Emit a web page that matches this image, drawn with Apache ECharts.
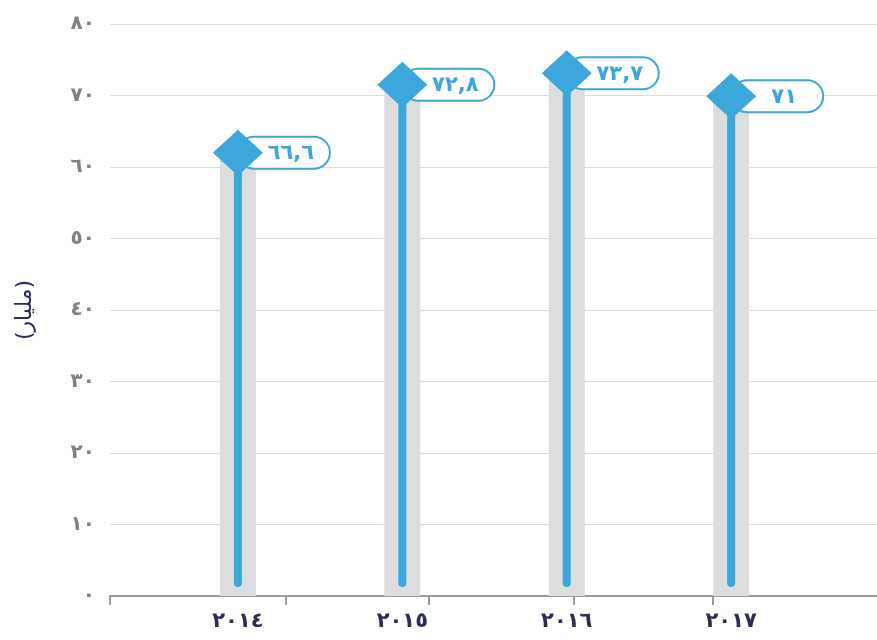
<!DOCTYPE html>
<html>
<head>
<meta charset="utf-8">
<script src="https://cdn.jsdelivr.net/npm/echarts@6/dist/echarts.min.js"></script>
<style>
html,body{margin:0;padding:0;background:#fff;}
#chart{width:877px;height:640px;}
</style>
</head>
<body>
<div id="chart"></div>
<script>
// ---- data ----
const years = [2014, 2015, 2016, 2017];
const yearLabels = ['٢٠١٤', '٢٠١٥', '٢٠١٦', '٢٠١٧'];
const values = [62.0, 71.5, 73.1, 69.9];
const valueLabels = ['٦٦,٦', '٧٢,٨', '٧٣,٧', '٧١'];
const yTickLabels = ['٠', '١٠', '٢٠', '٣٠', '٤٠', '٥٠', '٦٠', '٧٠', '٨٠'];
const xTickMarks = [2013.222, 2014.293, 2015.162, 2016.044, 2016.890];
const yAxisName = '(مليار)';

const BLUE = '#3ba7db';
const FONT = 'DejaVu Sans';
const points = years.map((y, i) => [y, values[i]]);

const chart = echarts.init(document.getElementById('chart'), null, {renderer: 'canvas'});
chart.setOption({
  animation: false,
  backgroundColor: '#fff',
  grid: {left: 110, right: 0, top: 24, bottom: 44},
  xAxis: {
    type: 'value',
    min: 2013.222,
    max: 2017.887,
    splitLine: {show: false},
    axisLine: {show: true, lineStyle: {color: '#9b9b9b', width: 2}},
    axisTick: {show: true, customValues: xTickMarks, length: 9, lineStyle: {color: '#9b9b9b', width: 2}},
    axisLabel: {
      customValues: years,
      margin: 15,
      formatter: v => yearLabels[years.indexOf(Math.round(v))] || '',
      color: '#2b2d52', fontSize: 21, fontWeight: 'bold', fontFamily: FONT
    }
  },
  yAxis: {
    type: 'value',
    min: 0, max: 80, interval: 10,
    name: yAxisName,
    nameLocation: 'middle',
    nameRotate: 90,
    nameGap: 74,
    nameTextStyle: {color: '#2b2d5c', fontSize: 22, fontFamily: FONT},
    axisLine: {show: false},
    axisTick: {show: false},
    splitLine: {lineStyle: {color: '#dcdcdc', width: 1}},
    axisLabel: {
      margin: 15,
      formatter: v => yTickLabels[Math.round(v / 10)],
      color: '#808080', fontSize: 20, fontWeight: 'bold', fontFamily: FONT
    }
  },
  series: [
    {
      type: 'bar',
      data: points,
      barWidth: 36,
      itemStyle: {color: '#dcdddf'},
      z: 1
    },
    {
      type: 'custom',
      data: points,
      z: 2,
      renderItem: (params, api) => {
        const top = api.coord([api.value(0), api.value(1)]);
        const bot = api.coord([api.value(0), 0]);
        return {
          type: 'line',
          shape: {x1: top[0], y1: top[1], x2: top[0], y2: bot[1] - 13},
          style: {stroke: BLUE, lineWidth: 8, lineCap: 'round'}
        };
      }
    },
    {
      type: 'custom',
      data: points,
      z: 3,
      renderItem: (params, api) => {
        const p = api.coord([api.value(0), api.value(1)]);
        return {
          type: 'group',
          children: [
            {
              type: 'rect',
              shape: {x: p[0], y: p[1] - 16, width: 92, height: 32, r: 16},
              style: {fill: '#fff', stroke: BLUE, lineWidth: 2}
            },
            {
              type: 'text',
              style: {
                text: valueLabels[params.dataIndex],
                x: p[0] + 53, y: p[1] + 1,
                align: 'center', verticalAlign: 'middle',
                fill: BLUE, font: 'bold 21px "' + FONT + '"'
              }
            }
          ]
        };
      }
    },
    {
      type: 'scatter',
      data: points,
      symbol: 'diamond',
      symbolSize: [50, 46],
      itemStyle: {color: BLUE, opacity: 1},
      z: 4
    }
  ]
});
</script>
</body>
</html>
